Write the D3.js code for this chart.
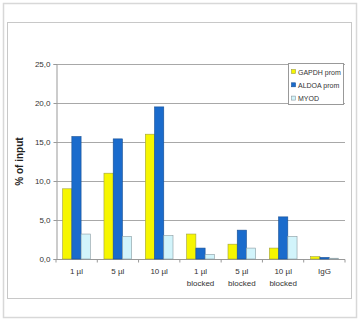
<!DOCTYPE html>
<html>
<head>
<meta charset="utf-8">
<script src="https://cdn.jsdelivr.net/npm/d3@7/dist/d3.min.js"></script>
<style>
  body { margin: 0; background: #fff; }
  svg { display: block; font-family: Arial, "Liberation Sans", sans-serif; }
</style>
</head>
<body>
<div id="chart"></div>
<script>
// data
const categories = [["1 µl"], ["5 µl"], ["10 µl"], ["1 µl", "blocked"], ["5 µl", "blocked"], ["10 µl", "blocked"], ["IgG"]];
const seriesNames = ["GAPDH prom", "ALDOA prom", "MYOD"];
const gapdh = [9.0, 11.0, 16.0, 3.2, 1.9, 1.4, 0.3];
const aldoa = [15.7, 15.4, 19.5, 1.4, 3.7, 5.4, 0.2];
const myod = [3.2, 2.9, 3.0, 0.6, 1.4, 2.9, 0.1];
const yTicks = [0, 5, 10, 15, 20, 25];
const colors = ["#f6f600", "#1a6bcc", "#d2f4fb"];
const strokes = ["#a0a040", "#174f94", "#8a9aa0"];

const W = 360, H = 320;
const margin = {left: 56, right: 15, top: 64, bottom: 61};

const svg = d3.select('#chart').append('svg')
  .attr('width', W).attr('height', H);

// outer frames
svg.append('rect').attr('x', 3.5).attr('y', 3.5).attr('width', 353).attr('height', 314)
  .attr('fill', 'none').attr('stroke', '#d8d8d8').attr('stroke-width', 1.5);
svg.append('rect').attr('x', 7.5).attr('y', 22.5).attr('width', 344).attr('height', 276)
  .attr('fill', 'none').attr('stroke', '#c8c8c8');

const x0 = d3.scaleBand()
  .domain(d3.range(categories.length))
  .range([margin.left, W - margin.right])
  .paddingInner(0.33).paddingOuter(0.16);
const x1 = d3.scaleBand().domain([0, 1, 2]).range([0, x0.bandwidth()]);
const y = d3.scaleLinear().domain([0, 25]).range([H - margin.bottom, margin.top]);

// gridlines
svg.append('g').selectAll('line').data(yTicks.slice(1)).join('line')
  .attr('x1', margin.left).attr('x2', W - margin.right)
  .attr('y1', d => Math.round(y(d)) + 0.5).attr('y2', d => Math.round(y(d)) + 0.5)
  .attr('stroke', '#a8a8a8');

// y axis
const yAxis = svg.append('g')
  .attr('transform', `translate(${margin.left + 0.5},0)`)
  .call(d3.axisLeft(y).tickValues(yTicks).tickSize(3)
    .tickFormat(d => d3.format('.1f')(d).replace('.', ',')));
yAxis.select('.domain').attr('stroke', '#999');
yAxis.selectAll('line').attr('stroke', '#999');
yAxis.selectAll('text').attr('font-size', 8).attr('fill', '#333').attr('x', -6);

// x axis
const xAxisG = svg.append('g')
  .attr('transform', `translate(0,${Math.round(y(0)) + 0.5})`);
xAxisG.append('line').attr('x1', margin.left).attr('x2', W - margin.right)
  .attr('stroke', '#999');
const step = (W - margin.right - margin.left) / categories.length;
xAxisG.selectAll('.tk').data(d3.range(categories.length + 1)).join('line')
  .attr('class', 'tk')
  .attr('x1', i => margin.left + i * step).attr('x2', i => margin.left + i * step)
  .attr('y1', 0).attr('y2', 3).attr('stroke', '#999');

const series = [gapdh, aldoa, myod];
series.forEach((vals, s) => {
  svg.append('g').selectAll('rect').data(vals).join('rect')
    .attr('x', (d, i) => x0(i) + x1(s))
    .attr('y', d => y(d))
    .attr('width', x1.bandwidth())
    .attr('height', d => y(0) - y(d))
    .attr('fill', colors[s])
    .attr('stroke', strokes[s]).attr('stroke-width', 0.6);
});

// category labels
const lab = svg.append('g').selectAll('text').data(categories).join('text')
  .attr('text-anchor', 'middle')
  .attr('font-size', 8).attr('fill', '#333')
  .attr('x', (d, i) => x0(i) + x0.bandwidth() / 2)
  .attr('y', 274);
lab.selectAll('tspan').data(d => d).join('tspan')
  .attr('x', function() { return this.parentNode.getAttribute('x'); })
  .attr('dy', (d, i) => i === 0 ? 0 : 12)
  .text(d => d);

// y title
svg.append('text')
  .attr('transform', `translate(23,${(margin.top + H - margin.bottom) / 2}) rotate(-90)`)
  .attr('text-anchor', 'middle')
  .attr('font-size', 10).attr('font-weight', 'bold').attr('fill', '#222')
  .text('% of input');

// legend
const lg = svg.append('g').attr('transform', 'translate(288.5,63.5)');
lg.append('rect').attr('width', 55).attr('height', 41)
  .attr('fill', '#fff').attr('stroke', '#999');
seriesNames.forEach((n, i) => {
  lg.append('rect').attr('x', 3).attr('y', 6 + i * 13.3)
    .attr('width', 4).attr('height', 4)
    .attr('fill', colors[i]).attr('stroke', strokes[i]).attr('stroke-width', 0.6);
  lg.append('text').attr('x', 9.5).attr('y', 11 + i * 13.3)
    .attr('font-size', 7).attr('fill', '#333').text(n);
});
</script>
</body>
</html>
